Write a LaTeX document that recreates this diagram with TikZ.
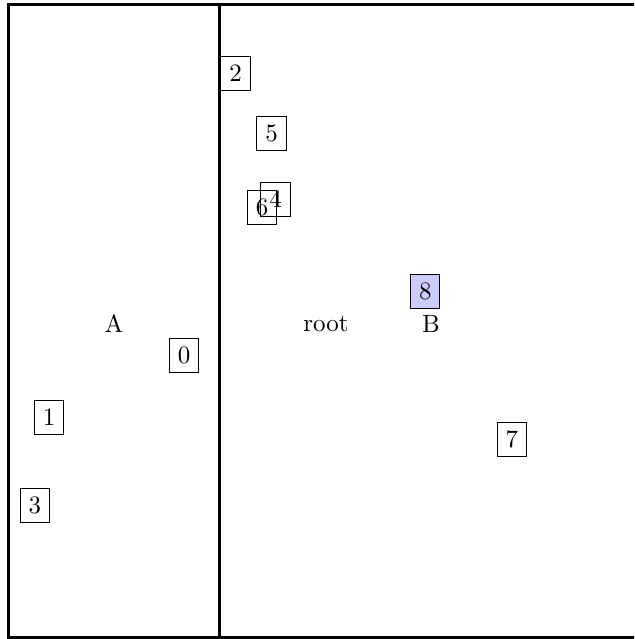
\documentclass[tikz,border=0pt]{standalone}
\begin{document}
\begin{tikzpicture}[x=0.4pt,y=-0.4pt,
  frame/.style={line width=1pt},
  item/.style={draw,line width=0.4pt,inner sep=3.33pt},
  hilite/.style={item,fill=blue!20},
  lbl/.style={inner sep=0pt}]
\useasboundingbox (0,0) rectangle (634,639);
\clip (0,0) rectangle (634,639);
\draw[frame] (8.5,4.5) rectangle (645,637.5);
\coordinate (vt) at (219.5,4.5);
\coordinate (vb) at (219.5,637.5);
\draw[frame] (vt) -- (vb);
\node[lbl] (lA) at (114,323.5) {A};
\node[lbl] (root) at (326,323.5) {root};
\node[lbl] (lB) at (431,323.5) {B};
\node[item] (n0) at (184.2,355.5) {0};
\node[item] (n1) at (49.2,417.5) {1};
\node[item] (n2) at (235.5,73.5) {2};
\node[item] (n3) at (34.8,505.3) {3};
\node[item] (n4) at (275.5,199.5) {4};
\node[item] (n5) at (271.5,133.5) {5};
\node[item] (n6) at (262,207.5) {6};
\node[item] (n7) at (511.8,439.2) {7};
\node[hilite] (n8) at (425.3,291.7) {8};
\end{tikzpicture}
\end{document}
